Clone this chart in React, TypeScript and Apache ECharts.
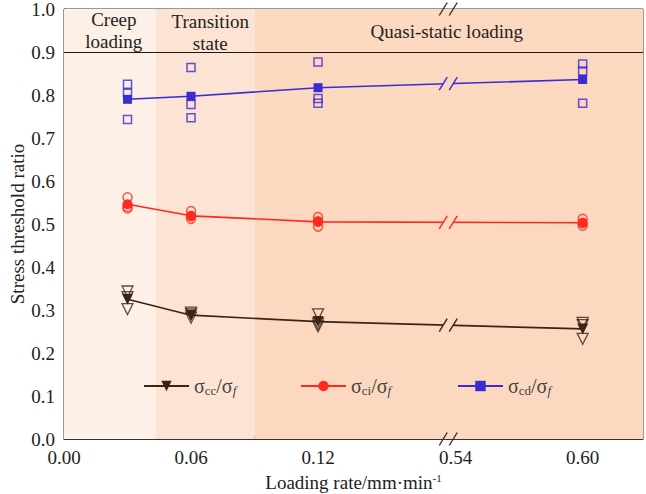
import React, { useEffect, useRef } from 'react';
import * as echarts from 'echarts';

// ---- data ----
const rates = [0.03, 0.06, 0.12, 0.6];
const cdMean = [0.79, 0.797, 0.817, 0.836];
const cdSamples = [
  [0.825, 0.804, 0.743],
  [0.864, 0.778, 0.747],
  [0.877, 0.792, 0.781],
  [0.872, 0.856, 0.781],
];
const ciMean = [0.546, 0.519, 0.505, 0.503];
const ciSamples = [
  [0.562, 0.54, 0.536],
  [0.53, 0.518, 0.512],
  [0.516, 0.506, 0.494],
  [0.512, 0.502, 0.496],
];
const ccMean = [0.325, 0.288, 0.273, 0.256];
const ccSamples = [
  [0.343, 0.33, 0.302],
  [0.294, 0.29, 0.282],
  [0.29, 0.268, 0.262],
  [0.27, 0.265, 0.233],
];
const xMajorLabels = [0.0, 0.06, 0.12, 0.54, 0.6];
const xMajorTicks = [0.0, 0.06, 0.12, 0.6];
const xMinorTicks = [0.03, 0.09, 0.15, 0.57];
const bandEdges = [0, 0.0433, 0.0901, 0.6285];
const bandLabels = ['Creep\nloading', 'Transition\nstate', 'Quasi-static loading'];
const yTop = 1.0;
const yDivider = 0.9;

// broken-axis mapping
const BREAK_START = 0.1815;
const BREAK_END = 0.5365;
const d = (r: number) => (r <= BREAK_START ? r : r - (BREAK_END - BREAK_START));
const XMAX = d(bandEdges[3]);

const BLUE = '#3b2bd3';
const RED = '#ff2a1e';
const BROWN = '#3a2415';
const BAND_COLORS = ['#fdf0e6', '#fce3d3', '#fbd8bf'];
const FONT = 'Liberation Serif';

const lineAt = (means: number[]) => {
  const x0 = d(rates[2]);
  const x1 = d(rates[3]);
  const t = (BREAK_START - x0) / (x1 - x0);
  return means[2] + t * (means[3] - means[2]);
};

function breakSeries(y: number, color: string, fill: string | null) {
  return {
    type: 'custom',
    clip: false,
    silent: true,
    z: 10,
    data: [[BREAK_START, y]],
    renderItem: (params: any, api: any) => {
      const p = api.coord([api.value(0), api.value(1)]);
      const cx = p[0];
      const cy = p[1];
      const w = 4;
      const h = 6.5;
      const s = 5;
      const children: any[] = [];
      if (fill) {
        children.push({
          type: 'polygon',
          shape: {
            points: [
              [cx - s - w, cy + h],
              [cx - s + w, cy - h],
              [cx + s + w, cy - h],
              [cx + s - w, cy + h],
            ],
          },
          style: { fill, stroke: 'none' },
        });
      }
      [-s, s].forEach((o) => {
        children.push({
          type: 'line',
          shape: { x1: cx + o - w, y1: cy + h, x2: cx + o + w, y2: cy - h },
          style: { stroke: color, lineWidth: 1.4 },
        });
      });
      return { type: 'group', children };
    },
  };
}

const legendNames: Record<string, string> = {
  cc: '{s|σ}{sub|cc}{s|/σ}{subi|f}',
  ci: '{s|σ}{sub|ci}{s|/σ}{subi|f}',
  cd: '{s|σ}{sub|cd}{s|/σ}{subi|f}',
};

const legendRich = {
  s: { fontSize: 20, fontFamily: FONT, color: '#444' },
  sub: { fontSize: 13, fontFamily: FONT, color: '#444', padding: [8, 0, 0, 0] },
  subi: { fontSize: 13, fontFamily: FONT, fontStyle: 'italic', color: '#444', padding: [8, 0, 0, 0] },
};

function makeLegend(name: string, left: number) {
  return {
    data: [name],
    left,
    top: 376,
    padding: 0,
    itemWidth: 45,
    itemHeight: 13,
    itemGap: 0,
    itemTextGap: 5,
    selectedMode: false,
    formatter: (n: string) => legendNames[n],
    textStyle: { rich: legendRich },
  };
}

const flat = (samples: number[][]) =>
  samples.flatMap((arr, i) => arr.map((v) => [d(rates[i]), v]));

const option: any = {
  animation: false,
  backgroundColor: '#ffffff',
  grid: {
    left: 64,
    right: 3,
    top: 9,
    bottom: 55,
    show: true,
    borderColor: '#333',
    borderWidth: 1,
    containLabel: false,
    outerBoundsMode: 'none',
  },
  legend: [makeLegend('cc', 143), makeLegend('ci', 300), makeLegend('cd', 457)],
  xAxis: [
    {
      type: 'value',
      min: 0,
      max: XMAX,
      position: 'bottom',
      name: '{n|Loading rate/mm·min}{sup|-1}',
      nameLocation: 'middle',
      nameGap: 33,
      nameMoveOverlap: false,
      nameTextStyle: {
        rich: {
          n: { fontSize: 19, fontFamily: FONT, color: '#222' },
          sup: { fontSize: 11, fontFamily: FONT, color: '#222', padding: [0, 0, 10, 0] },
        },
      },
      axisLine: { show: true, lineStyle: { color: '#333', width: 1 } },
      axisTick: {
        show: true,
        inside: true,
        length: 6,
        customValues: xMajorTicks.map(d),
        lineStyle: { color: '#333' },
      },
      axisLabel: {
        show: true,
        customValues: xMajorLabels.map(d),
        formatter: (v: number) => {
          const idx = xMajorLabels.findIndex((r) => Math.abs(d(r) - v) < 1e-6);
          return idx >= 0 ? xMajorLabels[idx].toFixed(2) : '';
        },
        fontSize: 19,
        fontFamily: FONT,
        color: '#222',
        margin: 9,
      },
      splitLine: { show: false },
    },
    {
      type: 'value',
      min: 0,
      max: XMAX,
      position: 'bottom',
      axisLine: { show: false },
      axisTick: {
        show: true,
        inside: true,
        length: 3,
        customValues: xMinorTicks.map(d),
        lineStyle: { color: '#333' },
      },
      axisLabel: { show: false },
      splitLine: { show: false },
    },
  ],
  yAxis: {
    type: 'value',
    min: 0,
    max: yTop,
    interval: 0.1,
    name: 'Stress threshold ratio',
    nameLocation: 'middle',
    nameGap: 37,
    nameMoveOverlap: false,
    nameTextStyle: { fontSize: 19, fontFamily: FONT, color: '#222' },
    axisLine: { show: true, lineStyle: { color: '#333', width: 1 } },
    axisTick: { show: true, inside: true, length: 6, lineStyle: { color: '#333' } },
    minorTick: { show: true, splitNumber: 2, length: 3, lineStyle: { color: '#333' } },
    axisLabel: {
      formatter: (v: number) => v.toFixed(1),
      fontSize: 19,
      fontFamily: FONT,
      color: '#222',
      margin: 9,
    },
    splitLine: { show: false },
  },
  series: [
    {
      type: 'line',
      name: 'bg',
      data: [],
      silent: true,
      markArea: {
        silent: true,
        data: bandLabels.map((lab, i) => [
          {
            name: lab,
            xAxis: d(bandEdges[i]),
            yAxis: 0,
            itemStyle: { color: BAND_COLORS[i] },
            label: {
              show: true,
              position: 'insideTop',
              formatter: '{b}',
              fontSize: 19,
              fontFamily: FONT,
              color: '#222',
              lineHeight: 22,
              distance: [-1, 1.5, 11][i],
              offset: [[4, 0], [5, 0], [-2, 0]][i],
            },
          },
          { xAxis: d(bandEdges[i + 1]), yAxis: yTop },
        ]),
      },
      markLine: {
        silent: true,
        symbol: ['none', 'none'],
        label: { show: false },
        lineStyle: { color: '#1a1a1a', width: 1.2, type: 'solid' },
        data: [{ yAxis: yDivider }],
      },
    },
    {
      type: 'scatter',
      name: 'cdS',
      symbol: 'rect',
      symbolSize: 8,
      itemStyle: { color: 'transparent', borderColor: BLUE, borderWidth: 1.5 },
      data: flat(cdSamples),
      z: 3,
    },
    {
      type: 'scatter',
      name: 'ciS',
      symbol: 'circle',
      symbolSize: 9,
      itemStyle: { color: 'transparent', borderColor: RED, borderWidth: 1.5 },
      data: flat(ciSamples),
      z: 3,
    },
    {
      type: 'scatter',
      name: 'ccS',
      symbol: 'triangle',
      symbolRotate: 180,
      symbolSize: 11,
      itemStyle: { color: 'transparent', borderColor: BROWN, borderWidth: 1.3 },
      data: flat(ccSamples),
      z: 3,
    },
    {
      type: 'line',
      name: 'cc',
      data: rates.map((r, i) => [d(r), ccMean[i]]),
      symbol: 'triangle',
      symbolRotate: 180,
      symbolSize: 11,
      showAllSymbol: true,
      color: BROWN,
      itemStyle: { color: BROWN },
      lineStyle: { color: BROWN, width: 1.6 },
      z: 5,
    },
    {
      type: 'line',
      name: 'ci',
      data: rates.map((r, i) => [d(r), ciMean[i]]),
      symbol: 'circle',
      symbolSize: 10,
      color: RED,
      itemStyle: { color: RED },
      lineStyle: { color: RED, width: 1.6 },
      z: 5,
    },
    {
      type: 'line',
      name: 'cd',
      data: rates.map((r, i) => [d(r), cdMean[i]]),
      symbol: 'rect',
      symbolSize: 9,
      color: BLUE,
      itemStyle: { color: BLUE },
      lineStyle: { color: BLUE, width: 1.6 },
      z: 5,
    },
    breakSeries(lineAt(cdMean), BLUE, BAND_COLORS[2]),
    breakSeries(lineAt(ciMean), RED, BAND_COLORS[2]),
    breakSeries(lineAt(ccMean), BROWN, BAND_COLORS[2]),
    breakSeries(0, '#333', null),
    breakSeries(yTop, '#333', null),
  ],
};

export default function App() {
  const ref = useRef<HTMLDivElement>(null);
  useEffect(() => {
    if (!ref.current) return;
    const chart = echarts.init(ref.current, null, { renderer: 'svg' });
    chart.setOption(option);
    return () => chart.dispose();
  }, []);
  return (
    <div
      ref={ref}
      style={{ position: 'absolute', left: 0, top: 0, width: 646, height: 494 }}
    />
  );
}
